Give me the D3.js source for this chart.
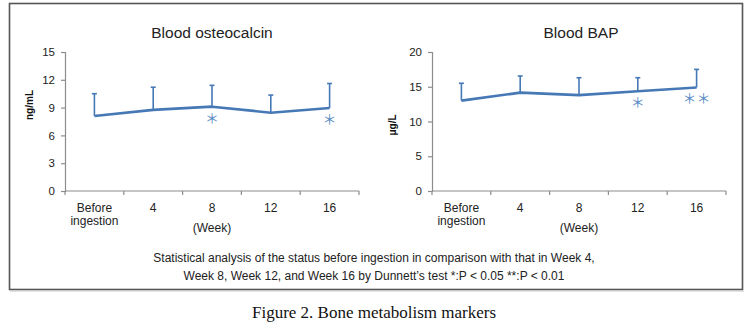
<!DOCTYPE html>
<html>
<head>
<meta charset="utf-8">
<script src="https://cdn.jsdelivr.net/npm/d3@7"></script>
<style>
  html, body { margin: 0; padding: 0; background: #fff; }
  svg { display: block; }
</style>
</head>
<body>
<svg id="fig" width="750" height="326"></svg>
<script>
// Time points (x categories)
const categories = ["Before ingestion", "4", "8", "12", "16"];

// Blood osteocalcin (ng/mL): mean and mean + SD
const osteoMean = [8.1, 8.75, 9.1, 8.45, 8.95];
const osteoUpper = [10.5, 11.2, 11.4, 10.35, 11.6];
const osteoSig = ["", "", "*", "", "*"];
const osteoTicks = [0, 3, 6, 9, 12, 15];

// Blood BAP (μg/L): mean and mean + SD
const bapMean = [13.0, 14.15, 13.8, 14.35, 14.9];
const bapUpper = [15.5, 16.55, 16.3, 16.3, 17.5];
const bapSig = ["", "", "", "*", "**"];
const bapTicks = [0, 5, 10, 15, 20];

const blue = "#4778b6";
const axisGrey = "#8c8c8c";
const svg = d3.select("#fig");

// Outer frame
svg.append("rect")
  .attr("x", 9.5).attr("y", 3.5)
  .attr("width", 733).attr("height", 286)
  .attr("fill", "none").attr("stroke", "#555").attr("stroke-width", 1.6);
svg.append("line")
  .attr("x1", 10).attr("x2", 744).attr("y1", 291).attr("y2", 291)
  .attr("stroke", "#c8c8c8").attr("stroke-width", 1.2);

function drawPanel(opt) {
  const g = svg.append("g");
  const x = d3.scaleBand().domain(categories).range([opt.x0, opt.x1]);
  const y = d3.scaleLinear().domain([0, opt.max]).range([191, 52]);

  // Title
  g.append("text")
    .attr("x", opt.titleX).attr("y", 38)
    .attr("text-anchor", "middle")
    .attr("font-family", "Liberation Sans, Arial, sans-serif")
    .attr("font-size", 15.5).attr("fill", "#222")
    .text(opt.title);

  // Y axis
  const ya = g.append("g")
    .attr("transform", `translate(${opt.x0},0)`)
    .call(d3.axisLeft(y).tickValues(opt.ticks).tickSize(4).tickPadding(6));
  ya.select(".domain").attr("stroke", axisGrey).attr("stroke-width", 1.2);
  ya.selectAll(".tick line").attr("stroke", axisGrey).attr("stroke-width", 1.2);
  ya.selectAll(".tick text")
    .attr("font-family", "Liberation Sans, Arial, sans-serif")
    .attr("font-size", 11.5).attr("fill", "#222");

  // X axis: ticks sit on the band boundaries
  const xa = g.append("g").attr("transform", "translate(0,191)");
  xa.append("line")
    .attr("x1", opt.x0).attr("x2", opt.x1)
    .attr("stroke", axisGrey).attr("stroke-width", 1.2);
  const bounds = categories.map(c => x(c)).concat([x(categories[categories.length - 1]) + x.bandwidth()]);
  xa.selectAll("line.tk").data(bounds).join("line")
    .attr("class", "tk")
    .attr("x1", d => d).attr("x2", d => d)
    .attr("y1", 0).attr("y2", 4)
    .attr("stroke", axisGrey).attr("stroke-width", 1.2);
  xa.selectAll("text.cat").data(categories).join("text")
    .attr("class", "cat")
    .attr("x", d => x(d) + x.bandwidth() / 2)
    .attr("text-anchor", "middle")
    .attr("font-family", "Liberation Sans, Arial, sans-serif")
    .attr("font-size", 12).attr("fill", "#222")
    .each(function(d) {
      const parts = d.split(" ");
      const t = d3.select(this);
      parts.forEach((p, i) => {
        t.append("tspan").attr("x", x(d) + x.bandwidth() / 2)
          .attr("y", 21 + i * 13).text(p);
      });
    });
  xa.append("text")
    .attr("x", x(categories[2]) + x.bandwidth() / 2).attr("y", 41)
    .attr("text-anchor", "middle")
    .attr("font-family", "Liberation Sans, Arial, sans-serif")
    .attr("font-size", 12).attr("fill", "#222")
    .text("(Week)");

  // Y axis unit label
  g.append("text")
    .attr("transform", `translate(${opt.unitX},${opt.unitY}) rotate(-90)`)
    .attr("text-anchor", "middle")
    .attr("font-family", "Liberation Sans, Arial, sans-serif")
    .attr("font-size", 10).attr("font-weight", "bold").attr("fill", "#111")
    .text(opt.unit);

  const cx = d => x(d) + x.bandwidth() / 2;

  // Error bars (upper only)
  const eb = g.selectAll("g.eb").data(categories).join("g").attr("class", "eb");
  eb.append("line")
    .attr("x1", (d) => cx(d)).attr("x2", (d) => cx(d))
    .attr("y1", (d, i) => y(opt.mean[i])).attr("y2", (d, i) => y(opt.upper[i]))
    .attr("stroke", blue).attr("stroke-width", 1.6);
  eb.append("line")
    .attr("x1", (d) => cx(d) - 2.5).attr("x2", (d) => cx(d) + 2.5)
    .attr("y1", (d, i) => y(opt.upper[i])).attr("y2", (d, i) => y(opt.upper[i]))
    .attr("stroke", blue).attr("stroke-width", 1.6);

  // Mean line
  const line = d3.line().x((d, i) => cx(categories[i])).y(d => y(d));
  g.append("path")
    .datum(opt.mean)
    .attr("d", line)
    .attr("fill", "none").attr("stroke", blue).attr("stroke-width", 2.6)
    .attr("stroke-linejoin", "round");

  // Significance marks (drawn with the full-width asterisk glyph)
  g.selectAll("text.sig").data(categories).join("text")
    .attr("class", "sig")
    .attr("x", d => cx(d))
    .attr("y", (d, i) => y(opt.mean[i]) + 16)
    .attr("text-anchor", "middle")
    .attr("font-family", "Noto Sans CJK JP, sans-serif")
    .attr("font-size", 14).attr("fill", "#5b8cc4")
    .text((d, i) => opt.sig[i].replace(/\*/g, "\uFF0A"));
}

drawPanel({
  title: "Blood osteocalcin", titleX: 212,
  x0: 65, x1: 359, max: 15, ticks: osteoTicks,
  mean: osteoMean, upper: osteoUpper, sig: osteoSig,
  unit: "ng/mL", unitX: 33, unitY: 105
});
drawPanel({
  title: "Blood BAP", titleX: 581,
  x0: 432, x1: 726, max: 20, ticks: bapTicks,
  mean: bapMean, upper: bapUpper, sig: bapSig,
  unit: "μg/L", unitX: 396, unitY: 125
});

// Footnote on statistics
const note = svg.append("text")
  .attr("text-anchor", "middle")
  .attr("font-family", "Liberation Sans, Arial, sans-serif")
  .attr("font-size", 12).attr("fill", "#222");
note.append("tspan").attr("x", 374).attr("y", 262)
  .text("Statistical analysis of the status before ingestion in comparison with that in Week 4,");
note.append("tspan").attr("x", 374).attr("y", 280)
  .text("Week 8, Week 12, and Week 16 by Dunnett\u2019s test  *:P < 0.05 **:P < 0.01");

// Figure caption
svg.append("text")
  .attr("x", 374).attr("y", 318)
  .attr("text-anchor", "middle")
  .attr("font-family", "Liberation Serif, Times New Roman, serif")
  .attr("font-size", 17).attr("fill", "#111")
  .text("Figure 2. Bone metabolism markers");
</script>
</body>
</html>
